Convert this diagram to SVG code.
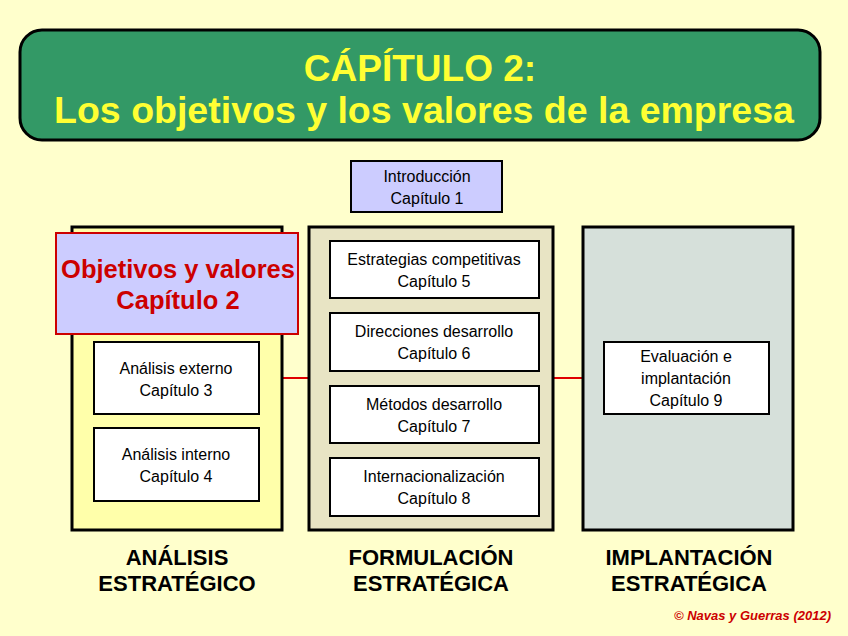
<svg xmlns="http://www.w3.org/2000/svg" width="848" height="636" viewBox="0 0 848 636">
<style>
text{font-family:"Liberation Sans",Arial,sans-serif;text-anchor:middle}
.b{fill:#fff;stroke:#000;stroke-width:2}
.t{font-size:16px;fill:#000}
.h{font-size:22px;font-weight:bold;fill:#000}
</style>
<rect x="0" y="0" width="848" height="636" fill="#ffffcc"/>
<g id="title">
<rect x="20" y="30" width="800" height="110" rx="22" fill="#339966" stroke="#000" stroke-width="3"/>
<text x="420" y="81" font-size="37" font-weight="bold" fill="#ffff33">CÁPÍTULO 2:</text>
<text x="424" y="123" font-size="37.5" font-weight="bold" fill="#ffff33">Los objetivos y los valores de la empresa</text>
</g>
<g id="connectors">
<line x1="282" y1="378" x2="309" y2="378" stroke="#e00000" stroke-width="2"/>
<line x1="553" y1="378" x2="583" y2="378" stroke="#e00000" stroke-width="2"/>
</g>
<g id="intro">
<rect x="351" y="161" width="151" height="51" fill="#ccccff" stroke="#000" stroke-width="2"/>
<text class="t" x="427" y="182">Introducción</text>
<text class="t" x="427" y="204">Capítulo 1</text>
</g>
<g id="analisis">
<rect x="72" y="227" width="210" height="303" fill="#ffffaa" stroke="#000" stroke-width="3"/>
<text class="h" x="177" y="565">ANÁLISIS</text>
<text class="h" x="177" y="591">ESTRATÉGICO</text>
</g>
<g id="formulacion">
<rect x="309" y="227" width="244" height="303" fill="#e8e4c4" stroke="#000" stroke-width="3"/>
<text class="h" x="431" y="565">FORMULACIÓN</text>
<text class="h" x="431" y="591">ESTRATÉGICA</text>
</g>
<g id="implantacion">
<rect x="583" y="227" width="210" height="303" fill="#d6e0da" stroke="#000" stroke-width="3"/>
<text class="h" x="689" y="565">IMPLANTACIÓN</text>
<text class="h" x="689" y="591">ESTRATÉGICA</text>
</g>
<g id="objetivos">
<rect x="56" y="233" width="242" height="101" fill="#ccccff" stroke="#cc0000" stroke-width="2"/>
<text x="178" y="278" font-size="25.5" font-weight="bold" fill="#cc0000">Objetivos y valores</text>
<text x="178" y="309" font-size="25.5" font-weight="bold" fill="#cc0000">Capítulo 2</text>
</g>
<g id="c3"><rect class="b" x="94" y="342" width="165" height="72"/>
<text class="t" x="176" y="374">Análisis externo</text><text class="t" x="176" y="396">Capítulo 3</text></g>
<g id="c4"><rect class="b" x="94" y="428" width="165" height="73"/>
<text class="t" x="176" y="460">Análisis interno</text><text class="t" x="176" y="482">Capítulo 4</text></g>
<g id="c5"><rect class="b" x="330" y="241" width="209" height="57"/>
<text class="t" x="434" y="265">Estrategias competitivas</text><text class="t" x="434" y="287">Capítulo 5</text></g>
<g id="c6"><rect class="b" x="330" y="313" width="209" height="58"/>
<text class="t" x="434" y="337">Direcciones desarrollo</text><text class="t" x="434" y="359">Capítulo 6</text></g>
<g id="c7"><rect class="b" x="330" y="386" width="209" height="57"/>
<text class="t" x="434" y="410">Métodos desarrollo</text><text class="t" x="434" y="432">Capítulo 7</text></g>
<g id="c8"><rect class="b" x="330" y="458" width="209" height="58"/>
<text class="t" x="434" y="482">Internacionalización</text><text class="t" x="434" y="504">Capítulo 8</text></g>
<g id="c9"><rect class="b" x="604" y="342" width="165" height="72"/>
<text class="t" x="686" y="362">Evaluación e</text><text class="t" x="686" y="384">implantación</text><text class="t" x="686" y="406">Capítulo 9</text></g>
<text x="831" y="620" font-size="13" font-weight="bold" font-style="italic" fill="#cc0000" style="text-anchor:end">© Navas y Guerras (2012)</text>
</svg>
